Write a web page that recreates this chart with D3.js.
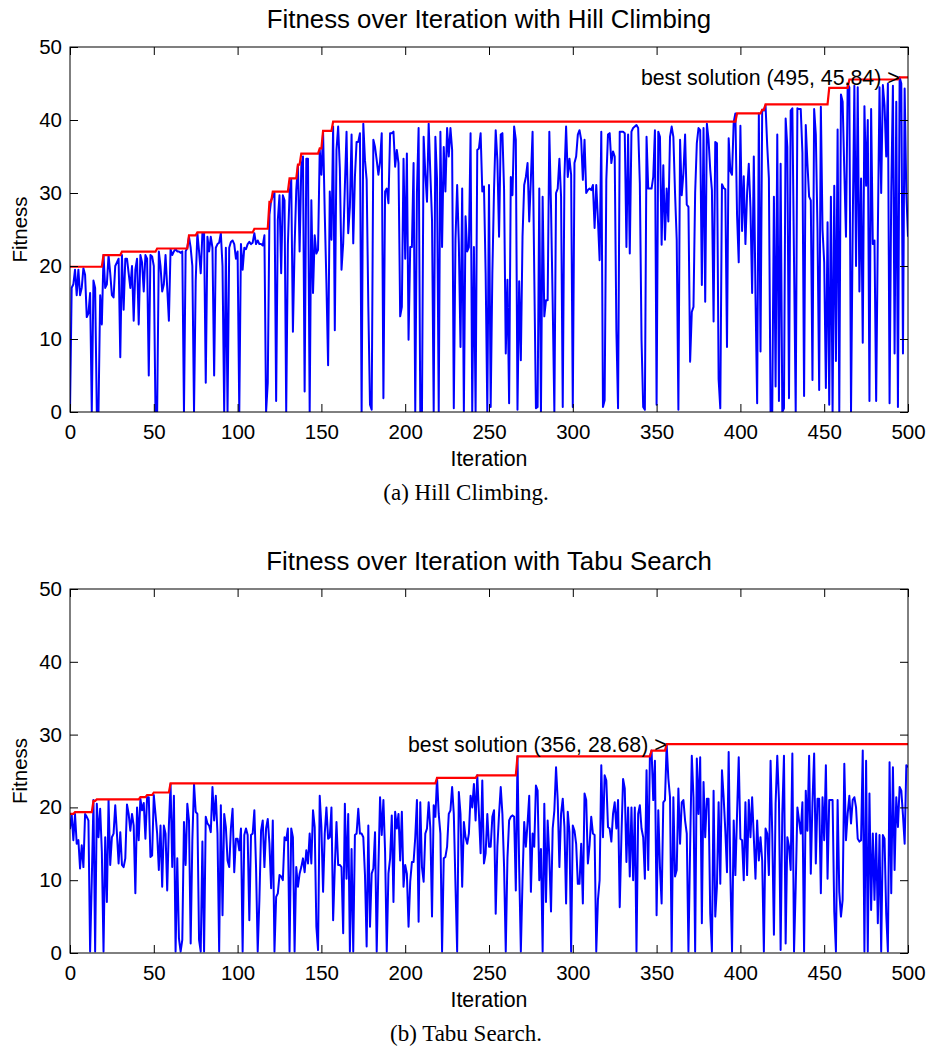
<!DOCTYPE html>
<html>
<head>
<meta charset="utf-8">
<script src="https://cdn.jsdelivr.net/npm/d3@7"></script>
<style>
  body { margin: 0; background: #fff; }
  text { font-family: "Liberation Sans", Arial, Helvetica, sans-serif; fill: #000; }
</style>
</head>
<body>
<div id="chart"></div>
<script>
const xTicks = [0, 50, 100, 150, 200, 250, 300, 350, 400, 450, 500];
const yTicks = [0, 10, 20, 30, 40, 50];

// fitness per iteration, hill climbing (iterations 0..500)
const hillFitness = [
  0,17,17.5,19.5,16,19.5,16,17,19.7,18.8,
  13,13.5,16.3,0,18,17,0,0,16,12,
  21.5,17,17.5,21.5,19,16,15.7,20,20.5,21,
  7.5,21.5,14,21,21,19,17,20,12.5,19.5,
  21,12,21.5,20.5,16.5,21.5,21,5,21.5,21.3,
  20,0,0,22,20,16.5,17.5,21.5,17,12.5,
  22.3,21.5,22,22.3,22,22,21.8,22,0,22,
  22.5,24,22.5,20,0,18,24.5,22,19,24.5,
  24.5,4,24,22,24,22.5,5,22.5,23,23.2,
  24.5,20,0,22.5,0,22.5,23.3,23.5,23,21,
  22,0,23,19.5,22.5,22.3,23,23.3,23,23.2,
  24.5,23,23.5,23,23,22.8,24.2,0,4,27,
  29,29.5,30,1.5,
  26.3,29.7,19,29.7,29,0,22.9,30,31.8,11,
  22.6,30.4,33.8,22,33.6,35,2.8,34.7,34.7,0,
  29,16.3,24.2,21.7,22.2,35.9,32.5,38.4,27.2,17.6,
  6.4,30.2,23.6,39.1,11.2,35.9,39.1,33.4,19.5,23.1,
  30.9,38.4,24.5,28.1,38,23.1,32.2,37,37,38.2,
  0,39.5,34.5,31.8,14.4,1,0.3,37.3,36.3,34.5,
  32.5,34.3,38.2,
  1.9,30.2,30.6,28.6,38.2,38.2,38.4,33.6,35.9,34.1,
  13.1,14.4,34.7,21,35.4,9.9,22.6,22.6,34.1,0,
  30,38.9,0,0,37.7,32.7,28.8,39.5,32.7,26.3,
  0,37.7,31.8,0,38.4,22.6,36.3,30.2,38.9,35,
  38.9,35.9,0.5,23.6,31.1,23.1,8.9,30.6,0,26.8,
  22,22.6,38.2,0,22.6,0,35.9,36.1,38.2,30.2,
  30.9,19,0,31.1,
  0.7,19,30.4,38.6,34.5,24,38,38.2,30.4,8,
  18.1,1.2,32.2,29.7,39.1,37.3,0.3,17.9,7.1,24,
  31.1,32.2,34.1,26.1,32,38.4,19,0.5,0.7,30.6,
  0,29.5,13.1,15.3,15.3,38.4,28.1,14.9,0,30,
  30.6,34.7,29.5,0.7,32.2,39.1,32.2,34.7,32.5,0.7,
  34.1,35,38,38.6,37.3,31.8,37.3,30,30.4,30.6,
  30.4,31.1,25.2,31.1,26.3,20.8,38.4,0.7,1.6,31.8,
  38,38.2,34.1,35.7,35,11.2,0.5,38.4,38.4,38.4,
  38.2,22.6,38,21.7,38.4,38.9,39.1,39.3,38.9,31.3,
  9.9,0.7,0.3,37.7,30.6,30.6,30.6,32.2,38.6,1,
  38.4,37.7,22.9,33.8,23.6,30.6,26.1,37.7,39.1,37.7,
  30,23.6,0.3,37.3,29.7,32.7,38,28.4,28.1,6.9,
  13.7,14.4,30,36.8,38.9,
  38.6,17.4,38.9,15.1,39.5,37.3,33.2,30.4,12.4,37,
  36.8,4.5,0.5,31.2,30.7,30.5,8.9,37.5,33,32.5,
  39.7,40.9,27,20.5,39.2,24.8,32.3,23,30,34,
  28,16.3,35,16,1.2,40.9,8.3,41.4,41.3,42,
  36.5,32,0,0,29.5,3.5,38,1.5,34,0,
  0.5,40.2,36.3,1.9,41.3,41.6,20.6,0,41.6,41.5,
  41.5,35.5,2.2,39.3,34,29.5,29,4.4,41.5,38,
  25,3,41.8,25,20.5,3.3,26,1,29.5,0,
  31,7,38.7,0,43.5,42.5,33,24,44.9,44.5,
  0,25,44.7,20,44.5,16.5,32,9.5,41.9,31,
  40,1.5,41.5,23,23.5,1.5,24.5,44.5,30,44.8,
  42,35,45,1.2,30,44.7,8,42.5,0.7,45.84,
  45,8,44.3,30,24
];
// best-so-far steps, hill climbing
const hillBestIter  = [0, 20, 31, 52, 71, 76, 110, 119, 121, 131, 136, 138, 149, 151, 157, 398, 413, 415, 453, 465, 495];
const hillBestValue = [19.9, 21.5, 21.96, 22.4, 24.2, 24.6, 25.1, 28.8, 30.2, 32.0, 33.9, 35.4, 36.1, 38.5, 39.77, 40.9, 41.4, 42.15, 44.4, 45.55, 45.84];

// fitness per iteration, tabu search (iterations 0..500)
const tabuFitness = [
  17,
  19.1,15.5,19.1,15,15.5,11.6,14.8,11.8,19.1,18.7,
  18.2,0.2,10,21,0.2,20.5,15.9,19.8,13.9,0.2,
  15.9,7,21,12.1,15.9,16.4,20.3,16.4,12.3,16.6,
  12.1,11.8,13,20.4,19.1,16.8,19.1,17.5,8.2,20,
  15.5,21.2,19.6,20.6,15.7,21.4,21.4,13.2,13.4,21.7,
  19.1,16.4,11.4,17.5,9.1,17.5,16.4,8.6,17.5,23.2,
  11.8,21.6,0.2,13,2,0.2,1.8,18,12.1,20.5,
  18.2,1.3,15.5,23.2,19.4,19.1,1.8,0.2,15.3,0.2,
  18.7,17.8,17.5,16.6,22.8,18.2,21.6,16.4,0.2,20.3,
  5.2,19.1,17.3,12.7,11.8,17.1,19.8,11.1,15.7,15.7,
  14.1,17.1,0.2,16.2,17.1,16.2,4.5,16.2,16.4,19.6,
  11.8,0.2,7.3,16.8,18.2,11.8,17.1,18.4,15,8.9,
  18.2,0.2,7.7,8.2,10.7,
  10.5,10,15.9,15.5,17.1,0.2,17.1,15.9,0.2,11.8,
  9.1,10.9,11.8,13,11.1,14.1,12.3,16.4,12.3,19.6,
  17.3,3.6,0.4,21.6,17.3,8.4,16.4,20,15.7,15.9,
  20,4.5,11.8,18,12.1,12.1,11.8,2.7,20.5,10.2,
  19.1,0.2,14.3,0.2,16.2,16.4,19.8,16.4,16.4,15.9,
  10.7,0.9,17.5,3.6,10.9,11.6,16.6,0.2,11.6,21.4,
  16.2,21,13.9,0.2,10.9,13,18.9,7,19.4,17.1,
  19.1,12.7,19.4,9.1,12.1,10.9,3.6,9.8,12.5,12.5,
  15.9,21,4.3,20.7,11.8,9.8,16.4,17.1,20.7,17.1,
  5,20.3,18.7,24.05,19.1,16.4,0.2,13,13.2,14.6,
  19.1,19.6,22.8,19.1,9.3,0.2,22.1,19.1,9.1,18,
  15.9,15,16.4,21.6,20,23.2,18.2,24.4,19.1,13.7,
  23.7,12.3,13.7,19.1,14.6,
  14.6,18.7,19.6,5.4,14.6,19.1,22.8,19.1,11.8,0.2,
  13,18.2,18.7,18.9,18.7,8.6,27,11.8,0.2,10,
  18,14.6,17.8,21.6,8.4,16.4,14.6,23,22.3,10,
  14.3,0.2,20.5,7,18.2,13.2,5.7,17.1,19.6,25.5,
  21,11.8,19.1,21.2,17.3,6.8,19.4,16.6,0.2,17.5,
  16.8,15,9.5,9.5,15,6.8,21.9,21,12.3,14.8,
  18.7,16.4,16.2,0.2,7.3,10,25.8,15.9,24.4,23.7,
  17.3,17.1,15.3,19.1,20.7,17.1,21,6.3,15.9,23.9,
  22.6,12.5,20,10.5,20,10,20,0.2,19.1,20.3,
  17.1,15.9,10.2,25.1,11.4,27,27.8,21,26.4,5.2,
  19.6,11.8,6.8,20.7,21,28.68,24,21.4,0.2,21.4,
  10.5,11.4,22.6,15,20.7,21,18.2,16.4,0.2,14.6,
  27.1,21.4,0.2,26.7,19.1,
  26.9,4.1,23.5,15.9,21.2,21.2,5.4,0.2,22.3,5,
  9.1,20.7,9.5,25.1,21.4,16.8,11.1,27.6,10.9,0.2,
  18.2,10.7,19.1,26.9,15.7,15.5,10,20.7,10.7,21,
  15.9,21.4,15.9,10.2,18.2,12.7,15.9,12.7,0.2,17.1,
  16.4,10.7,26.4,16.4,2.5,20.5,27.1,21,0.4,19.1,
  27.1,1.3,15.9,14.6,11.4,27.4,0.2,9.1,20,18.2,
  16.4,20.7,0.2,22.3,16.8,27.1,10.9,20.7,27.4,12.3,
  21.2,21.2,8.2,21.4,15.5,25.8,10.2,21,21,21,
  5.7,0.2,21,8.4,5,7.3,26,15.5,19.1,21.6,
  17.8,21,21.4,20,15.7,15.3,15.5,27.8,0.2,26.4,
  0.2,21.9,5.9,16.4,7.3,16.4,4.1,16.2,0.2,16.2,
  15.7,5.4,0.2,26.2,8.2,25.5,11.4,21.4,17.3,22.8,
  22.3,18.9,15,25.8,25.5
];
// best-so-far steps, tabu search
const tabuBestIter  = [0, 3, 14, 16, 42, 46, 50, 60, 219, 243, 267, 347, 356];
const tabuBestValue = [19.1, 19.35, 20.9, 21.1, 21.4, 21.7, 22.05, 23.3, 24.05, 24.4, 27.0, 27.8, 28.68];

const panels = [
  { title: "Fitness over Iteration with Hill Climbing", caption: "(a) Hill Climbing.",
    fitness: hillFitness, bestIter: hillBestIter, bestValue: hillBestValue,
    note: "best solution (495, 45.84) >", noteAt: [495, 45.84],
    top: 47, bottom: 412 },
  { title: "Fitness over Iteration with Tabu Search", caption: "(b) Tabu Search.",
    fitness: tabuFitness, bestIter: tabuBestIter, bestValue: tabuBestValue,
    note: "best solution (356, 28.68) >", noteAt: [356, 28.68],
    top: 589, bottom: 953 }
];

const width = 930, height = 1047;
const left = 70, right = 908;

const svg = d3.select("#chart").append("svg")
    .attr("width", width)
    .attr("height", height);

svg.append("rect").attr("width", width).attr("height", height).attr("fill", "#fff");

const x = d3.scaleLinear().domain([0, 500]).range([left, right]);

panels.forEach((p, k) => {
    const y = d3.scaleLinear().domain([0, 50]).range([p.bottom, p.top]);
    const g = svg.append("g");

    // best-so-far line, each improvement rises over one iteration
    const best = [];
    p.bestIter.forEach((it, i) => {
        if (i > 0) best.push([it - 1, p.bestValue[i - 1]]);
        best.push([it, p.bestValue[i]]);
    });
    best.push([500, p.bestValue[p.bestValue.length - 1]]);

    const clipId = "clip" + k;
    g.append("clipPath").attr("id", clipId)
      .append("rect")
        .attr("x", left).attr("y", p.top)
        .attr("width", right - left).attr("height", p.bottom - p.top);

    const line = d3.line().x(d => x(d[0])).y(d => y(d[1]));

    g.append("path")
        .datum(p.fitness.map((v, i) => [i, v]))
        .attr("clip-path", `url(#${clipId})`)
        .attr("fill", "none")
        .attr("stroke", "#0000ff")
        .attr("stroke-width", 2)
        .attr("stroke-linejoin", "round")
        .attr("d", line);

    g.append("path")
        .datum(best)
        .attr("clip-path", `url(#${clipId})`)
        .attr("fill", "none")
        .attr("stroke", "#ff0000")
        .attr("stroke-width", 2.2)
        .attr("d", line);

    // axes, ticks pointing inwards on all four sides
    const axisStyle = sel => {
        sel.select(".domain").remove();
        sel.selectAll(".tick line").attr("stroke", "#000");
        sel.selectAll(".tick text")
            .attr("font-size", 20.5)
            .attr("font-family", '"Liberation Sans", Arial, sans-serif')
            .attr("fill", "#000");
    };

    g.append("g")
        .attr("transform", `translate(0,${p.bottom})`)
        .call(d3.axisBottom(x).tickValues(xTicks).tickSizeInner(-8).tickSizeOuter(0).tickPadding(12))
        .call(axisStyle);

    g.append("g")
        .attr("transform", `translate(0,${p.top})`)
        .call(d3.axisTop(x).tickValues(xTicks).tickSizeInner(-8).tickSizeOuter(0).tickFormat(""))
        .call(axisStyle);

    g.append("g")
        .attr("transform", `translate(${left},0)`)
        .call(d3.axisLeft(y).tickValues(yTicks).tickSizeInner(-8).tickSizeOuter(0).tickPadding(8))
        .call(axisStyle);

    g.append("g")
        .attr("transform", `translate(${right},0)`)
        .call(d3.axisRight(y).tickValues(yTicks).tickSizeInner(-8).tickSizeOuter(0).tickFormat(""))
        .call(axisStyle);

    g.append("rect")
        .attr("x", left).attr("y", p.top)
        .attr("width", right - left).attr("height", p.bottom - p.top)
        .attr("fill", "none")
        .attr("stroke", "#000")
        .attr("stroke-width", 1);

    g.append("text")
        .attr("x", x(p.noteAt[0]))
        .attr("y", y(p.noteAt[1]))
        .attr("dy", "0.35em")
        .attr("text-anchor", "end")
        .attr("font-size", 21.3)
        .text(p.note);

    g.append("text")
        .attr("x", (left + right) / 2)
        .attr("y", p.top - 19)
        .attr("text-anchor", "middle")
        .attr("font-size", 25.8)
        .text(p.title);

    g.append("text")
        .attr("x", (left + right) / 2)
        .attr("y", p.bottom + 54)
        .attr("text-anchor", "middle")
        .attr("font-size", 21.3)
        .text("Iteration");

    g.append("text")
        .attr("transform", `translate(27,${(p.top + p.bottom) / 2}) rotate(-90)`)
        .attr("text-anchor", "middle")
        .attr("font-size", 20.5)
        .text("Fitness");

    g.append("text")
        .attr("x", 466)
        .attr("y", p.bottom + 88)
        .attr("text-anchor", "middle")
        .attr("font-size", 23)
        .style("font-family", '"Liberation Serif", "Times New Roman", serif')
        .text(p.caption);
});
</script>
</body>
</html>
